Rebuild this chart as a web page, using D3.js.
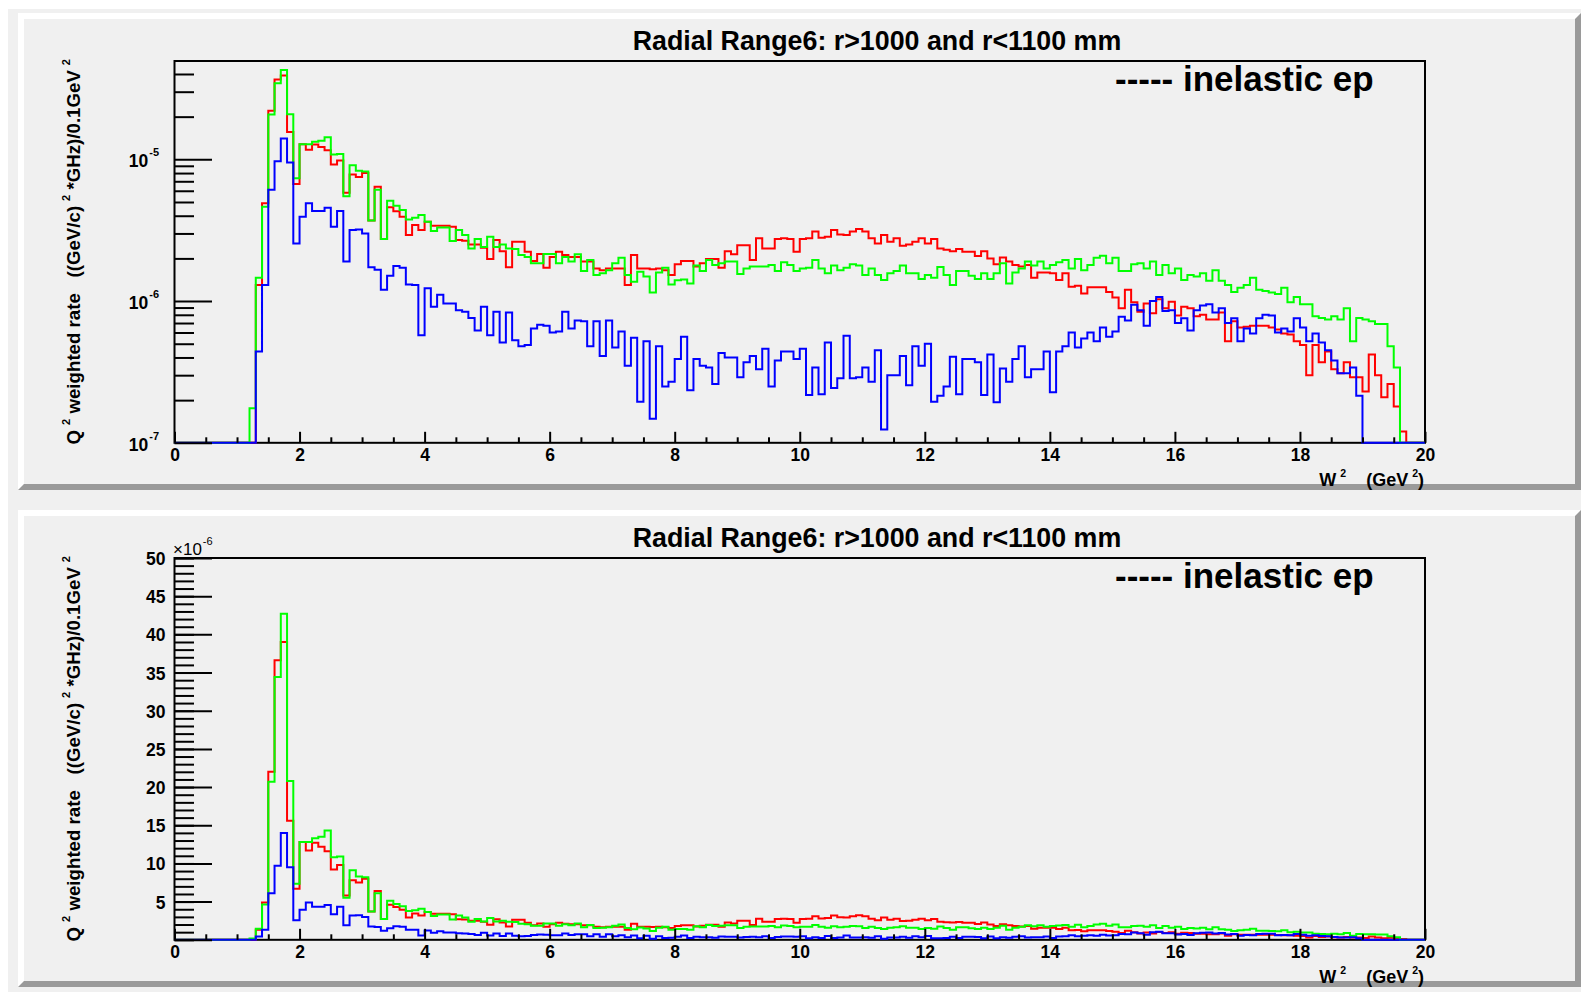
<!DOCTYPE html>
<html>
<head>
<meta charset="utf-8">
<script src="https://cdn.jsdelivr.net/npm/d3@7"></script>
<style>
  body { margin: 0; background: #ffffff; }
  svg { display: block; }
  text { font-family: "Liberation Sans", Arial, Helvetica, sans-serif; white-space: pre; }
</style>
</head>
<body>
<svg id="canvas" width="1581" height="992"></svg>
<script>
// ---------------------------------------------------------------
// W^2 spectra, Q^2 weighted rate, radial range 6 (1000 < r < 1100 mm)
// 200 bins of 0.1 GeV^2 from 0 to 20 GeV^2; values in units of 1e-6
// ---------------------------------------------------------------
const titleText = "Radial Range6: r>1000 and r<1100 mm";
const legendText = "----- inelastic ep";
const nBins = 200, wLow = 0, wHigh = 20;

// rows of ten bins, the comment gives W^2 at the start of the row
const redRate = [
  0,0,0,0,0,0,0,0,0,0,                                        // 0.0
  0,0,0,1.30,4.89,22.0,36.6,39.0,15.6,6.7,                    // 1.0
  12.8,11.7,12.7,12.2,11.6,9.2,9.8,5.8,7.8,7.5,               // 2.0
  8.0,3.7,6.4,2.74,4.6,4.3,3.94,2.92,3.44,3.17,               // 3.0
  3.63,3.40,3.40,3.40,3.35,2.70,2.66,2.51,2.51,2.38,          // 4.0
  1.98,2.70,2.25,1.73,2.62,2.62,2.23,1.92,2.15,1.72,          // 5.0
  2.05,2.23,2.11,2.05,2.05,1.90,1.90,1.70,1.65,1.70,          // 6.0
  1.70,1.70,1.30,2.11,1.70,1.70,1.68,1.70,1.65,1.53,          // 7.0
  1.82,1.92,1.92,1.75,1.85,1.98,1.98,1.72,2.25,2.14,          // 8.0
  2.48,2.48,1.95,2.77,2.35,2.35,2.74,2.77,2.74,2.23,          // 9.0
  2.74,2.77,3.09,2.80,2.84,3.17,2.95,2.92,3.09,3.23,          // 10.0
  3.09,2.77,2.55,2.92,2.62,2.77,2.46,2.51,2.62,2.77,          // 11.0
  2.55,2.74,2.35,2.30,2.25,2.33,2.23,2.23,2.08,2.25,          // 12.0
  2.00,1.82,2.03,1.90,1.80,1.75,1.80,1.46,1.59,1.59,          // 13.0
  1.57,1.41,1.57,1.26,1.28,1.13,1.25,1.25,1.25,1.16,          // 14.0
  1.06,0.89,1.20,0.98,0.84,0.96,0.82,1.03,0.89,0.99,          // 15.0
  0.79,0.91,0.89,0.78,0.80,0.74,0.74,0.83,0.52,0.72,          // 16.0
  0.65,0.66,0.67,0.67,0.67,0.65,0.63,0.59,0.58,0.52,          // 17.0
  0.49,0.30,0.49,0.37,0.44,0.33,0.31,0.37,0.29,0.29,          // 18.0
  0.23,0.42,0.30,0.21,0.26,0.18,0.12,0,0,0                    // 19.0
];

const greenRate = [
  0,0,0,0,0,0,0,0,0,0,                                        // 0.0
  0,0,0.175,1.46,4.63,20.7,34.4,42.7,20.8,7.35,               // 1.0
  12.8,12.8,13.3,13.5,14.3,10.8,10.9,5.5,9.1,8.3,             // 2.0
  8.2,3.7,6.1,2.74,5.1,4.7,4.39,3.77,3.87,4.05,               // 3.0
  3.63,3.12,3.30,3.30,2.65,3.17,2.92,2.35,2.74,2.41,          // 4.0
  2.84,2.41,2.51,2.35,2.33,2.11,2.05,1.85,1.85,2.15,          // 5.0
  2.15,1.85,2.05,1.90,2.14,1.63,1.95,1.53,1.57,1.65,          // 6.0
  1.85,2.02,1.53,1.37,1.61,1.49,1.15,1.59,1.72,1.31,          // 7.0
  1.40,1.42,1.33,1.78,1.63,1.95,1.80,1.85,1.90,1.90,          // 8.0
  1.55,1.70,1.75,1.75,1.75,1.80,1.63,1.88,1.80,1.63,          // 9.0
  1.70,1.72,1.95,1.70,1.57,1.78,1.65,1.72,1.82,1.78,          // 10.0
  1.53,1.70,1.53,1.41,1.57,1.63,1.78,1.57,1.57,1.43,          // 11.0
  1.53,1.46,1.74,1.53,1.30,1.63,1.63,1.51,1.43,1.57,          // 12.0
  1.43,1.57,1.85,1.33,1.59,1.70,1.90,1.78,1.90,1.70,          // 13.0
  1.80,1.88,1.95,1.70,1.98,1.65,1.80,2.02,2.09,1.85,          // 14.0
  2.02,1.63,1.63,1.82,1.85,1.70,1.90,1.53,1.80,1.57,          // 15.0
  1.70,1.41,1.53,1.49,1.57,1.39,1.65,1.39,1.30,1.16,          // 16.0
  1.24,1.30,1.46,1.20,1.18,1.15,1.12,1.24,0.98,1.07,          // 17.0
  0.95,0.95,0.78,0.76,0.74,0.78,0.74,0.89,0.52,0.76,          // 18.0
  0.74,0.72,0.69,0.69,0.48,0.34,0,0,0,0                       // 19.0
];

const blueRate = [
  0,0,0,0,0,0,0,0,0,0,                                        // 0.0
  0,0,0,0.44,1.30,6.1,9.7,14.0,9.5,2.55,                      // 1.0
  3.94,4.89,4.32,4.32,4.56,3.35,4.32,1.90,3.17,3.20,          // 2.0
  3.00,1.73,1.66,1.20,1.51,1.77,1.72,1.31,1.30,0.575,         // 3.0
  1.23,0.91,1.11,0.96,0.96,0.86,0.84,0.76,0.62,0.91,          // 4.0
  0.575,0.84,0.51,0.83,0.53,0.48,0.49,0.64,0.68,0.67,         // 5.0
  0.60,0.61,0.84,0.64,0.73,0.72,0.48,0.72,0.41,0.73,          // 6.0
  0.47,0.61,0.35,0.55,0.195,0.52,0.148,0.48,0.25,0.27,        // 7.0
  0.39,0.56,0.235,0.39,0.35,0.34,0.26,0.43,0.40,0.40,         // 8.0
  0.29,0.37,0.41,0.33,0.46,0.25,0.38,0.44,0.44,0.39,          // 9.0
  0.46,0.217,0.34,0.22,0.51,0.244,0.285,0.57,0.285,0.29,      // 10.0
  0.34,0.27,0.45,0.124,0.30,0.30,0.41,0.255,0.48,0.35,        // 11.0
  0.50,0.195,0.215,0.25,0.405,0.22,0.39,0.39,0.37,0.217,      // 12.0
  0.42,0.193,0.335,0.27,0.39,0.48,0.29,0.33,0.33,0.44,        // 13.0
  0.227,0.44,0.48,0.60,0.47,0.545,0.60,0.52,0.65,0.56,        // 14.0
  0.61,0.775,0.73,0.94,0.86,0.67,1.00,1.07,0.85,0.86,         // 15.0
  0.70,0.755,0.62,0.86,0.93,0.95,0.83,0.89,0.70,0.755,        // 16.0
  0.52,0.64,0.59,0.755,0.80,0.79,0.60,0.64,0.61,0.755,        // 17.0
  0.65,0.52,0.59,0.51,0.45,0.38,0.31,0.31,0.34,0.215,         // 18.0
  0,0,0,0,0,0,0,0,0,0                                         // 19.0
];

// axis ticks
const xMajorTicks = d3.range(0, 21, 2);
const xMinorTicks = d3.range(0, 20.01, 0.5);
const logMajorTicks = [0.1, 1, 10];
const logMajorLabels = [["10", "-7"], ["10", "-6"], ["10", "-5"]];
const logMinorTicks = [0.2,0.3,0.4,0.5,0.6,0.7,0.8,0.9, 2,3,4,5,6,7,8,9, 20,30,40];
const linMajorTicks = d3.range(0, 51, 5);
const linMinorTicks = d3.range(0, 51, 1);
const linLabelTicks = d3.range(5, 51, 5);

// styles
const padFill = "#f0f0f0";
const bevelLight = "#ffffff";
const bevelDark = "#9a9a9a";
const seriesList = [
  { values: redRate,   color: "#ff0000" },
  { values: greenRate, color: "#00ff00" },
  { values: blueRate,  color: "#0000ff" }
];

const svg = d3.select("#canvas");
const edges = d3.range(nBins + 1).map(i => wLow + (wHigh - wLow) * i / nBins);

// canvas background
svg.append("rect").attr("x", 8).attr("y", 9).attr("width", 1573).attr("height", 983).attr("fill", padFill);

// writes a sequence of [text, superscript?] pieces into a text element
function richText(sel, pieces, size, supSize, supRise, supGap) {
  let raised = false;
  pieces.forEach(([str, sup]) => {
    const t = sel.append("tspan").text(str);
    if (sup && !raised) { t.attr("font-size", supSize).attr("dy", -supRise).attr("dx", supGap || 0); raised = true; }
    else if (!sup && raised) { t.attr("font-size", size).attr("dy", supRise); raised = false; }
    else t.attr("font-size", sup ? supSize : size);
  });
}

function drawPad(offsetY, useLog) {
  const g = svg.append("g").attr("transform", `translate(0,${offsetY})`);
  const p = { x0: 18, y0: 13, x1: 1581, y1: 490 }, b = 6;

  // raised pad with bevelled border
  g.append("rect").attr("x", p.x0).attr("y", p.y0)
    .attr("width", p.x1 - p.x0).attr("height", p.y1 - p.y0).attr("fill", padFill);
  g.append("polygon").attr("fill", bevelLight).attr("points",
    [[p.x0, p.y0], [p.x1, p.y0], [p.x1 - b, p.y0 + b], [p.x0 + b, p.y0 + b], [p.x0 + b, p.y1 - b], [p.x0, p.y1]].join(" "));
  g.append("polygon").attr("fill", bevelDark).attr("points",
    [[p.x1, p.y1], [p.x0, p.y1], [p.x0 + b, p.y1 - b], [p.x1 - b, p.y1 - b], [p.x1 - b, p.y0 + b], [p.x1, p.y0]].join(" "));

  const frame = { left: 174.5, right: 1425, top: 61, bottom: 442.8 };
  const x = d3.scaleLinear().domain([wLow, wHigh]).range([frame.left, frame.right]);
  const yMin = useLog ? 0.1 : 0;
  const y = useLog
    ? d3.scaleLog().domain([0.1, 49.4]).range([frame.bottom, frame.top])
    : d3.scaleLinear().domain([0, 50]).range([frame.bottom, frame.top]);

  // frame
  g.append("rect").attr("x", frame.left).attr("y", frame.top)
    .attr("width", frame.right - frame.left).attr("height", frame.bottom - frame.top)
    .attr("fill", "none").attr("stroke", "#000").attr("stroke-width", 2);

  // histograms drawn as step outlines
  const line = d3.line().x(d => x(d[0])).y(d => y(Math.max(d[1], yMin)));
  seriesList.forEach(s => {
    const pts = [];
    s.values.forEach((v, i) => { pts.push([edges[i], v]); pts.push([edges[i + 1], v]); });
    g.append("path").datum(pts).attr("d", line)
      .attr("fill", "none").attr("stroke", s.color).attr("stroke-width", 2);
  });

  // x axis
  const xMinor = g.append("g").attr("transform", `translate(0,${frame.bottom})`)
    .call(d3.axisBottom(x).tickValues(xMinorTicks.filter(v => v % 2 !== 0)).tickSize(-5.5).tickFormat(""));
  const xMajor = g.append("g").attr("transform", `translate(0,${frame.bottom})`)
    .call(d3.axisBottom(x).tickValues(xMajorTicks).tickSize(-11).tickPadding(5.5).tickFormat(d3.format("d")));
  [xMinor, xMajor].forEach(a => {
    a.select(".domain").remove();
    a.selectAll("line").attr("stroke", "#000").attr("stroke-width", 2);
  });
  xMajor.selectAll("text").attr("font-family", null).attr("font-size", 17.5)
    .attr("font-weight", "bold").attr("fill", "#000");

  // y axis
  const yMinor = g.append("g").attr("transform", `translate(${frame.left},0)`)
    .call(d3.axisLeft(y).tickValues(useLog ? logMinorTicks : linMinorTicks).tickSize(-19.5).tickFormat(""));
  const yMajor = g.append("g").attr("transform", `translate(${frame.left},0)`)
    .call(d3.axisLeft(y).tickValues(useLog ? logMajorTicks : linMajorTicks).tickSize(-37.5).tickFormat(""));
  [yMinor, yMajor].forEach(a => {
    a.select(".domain").remove();
    a.selectAll("line").attr("stroke", "#000").attr("stroke-width", 2);
  });

  const labels = g.append("g").attr("font-weight", "bold").attr("fill", "#000");
  if (useLog) {
    logMajorTicks.forEach((v, i) => {
      const t = labels.append("text").attr("x", 159).attr("y", y(v) + 8).attr("text-anchor", "end");
      richText(t, [[logMajorLabels[i][0], false], [logMajorLabels[i][1], true]], 17.5, 11, 11, 1);
    });
  } else {
    labels.selectAll("text.ylab").data(linLabelTicks).join("text")
      .attr("class", "ylab").attr("x", 165.5).attr("y", d => y(d) + 7)
      .attr("text-anchor", "end").attr("font-size", 17.5).text(d => d);
    const mult = g.append("text").attr("x", 173).attr("y", 555 - 497).attr("fill", "#000");
    richText(mult, [["\u00d710", false], ["-6", true]], 17, 11, 10, 1);
  }

  // axis titles
  const yTitle = g.append("text").attr("transform", "translate(80,59) rotate(-90)")
    .attr("text-anchor", "end").attr("font-weight", "bold").attr("fill", "#000");
  richText(yTitle, [["Q", false], ["2", true], [" weighted rate   ((GeV/c)", false], ["2", true],
    [" *GHz)/0.1GeV", false], ["2", true]], 18.7, 11, 10, 5);

  const xTitle = g.append("text").attr("x", 1424).attr("y", 486)
    .attr("text-anchor", "end").attr("font-weight", "bold").attr("fill", "#000");
  richText(xTitle, [["W", false], ["2", true], ["    (GeV", false], ["2", true], [")", false]], 18, 10.5, 9, 4);

  // title and legend label
  g.append("text").attr("x", 877).attr("y", 49.5).attr("text-anchor", "middle")
    .attr("font-weight", "bold").attr("font-size", 26.8).attr("fill", "#000").text(titleText);
  g.append("text").attr("x", 1115).attr("y", 91)
    .attr("font-weight", "bold").attr("font-size", 35).attr("fill", "#000").text(legendText);
}

drawPad(0, true);
drawPad(497, false);
</script>
</body>
</html>
